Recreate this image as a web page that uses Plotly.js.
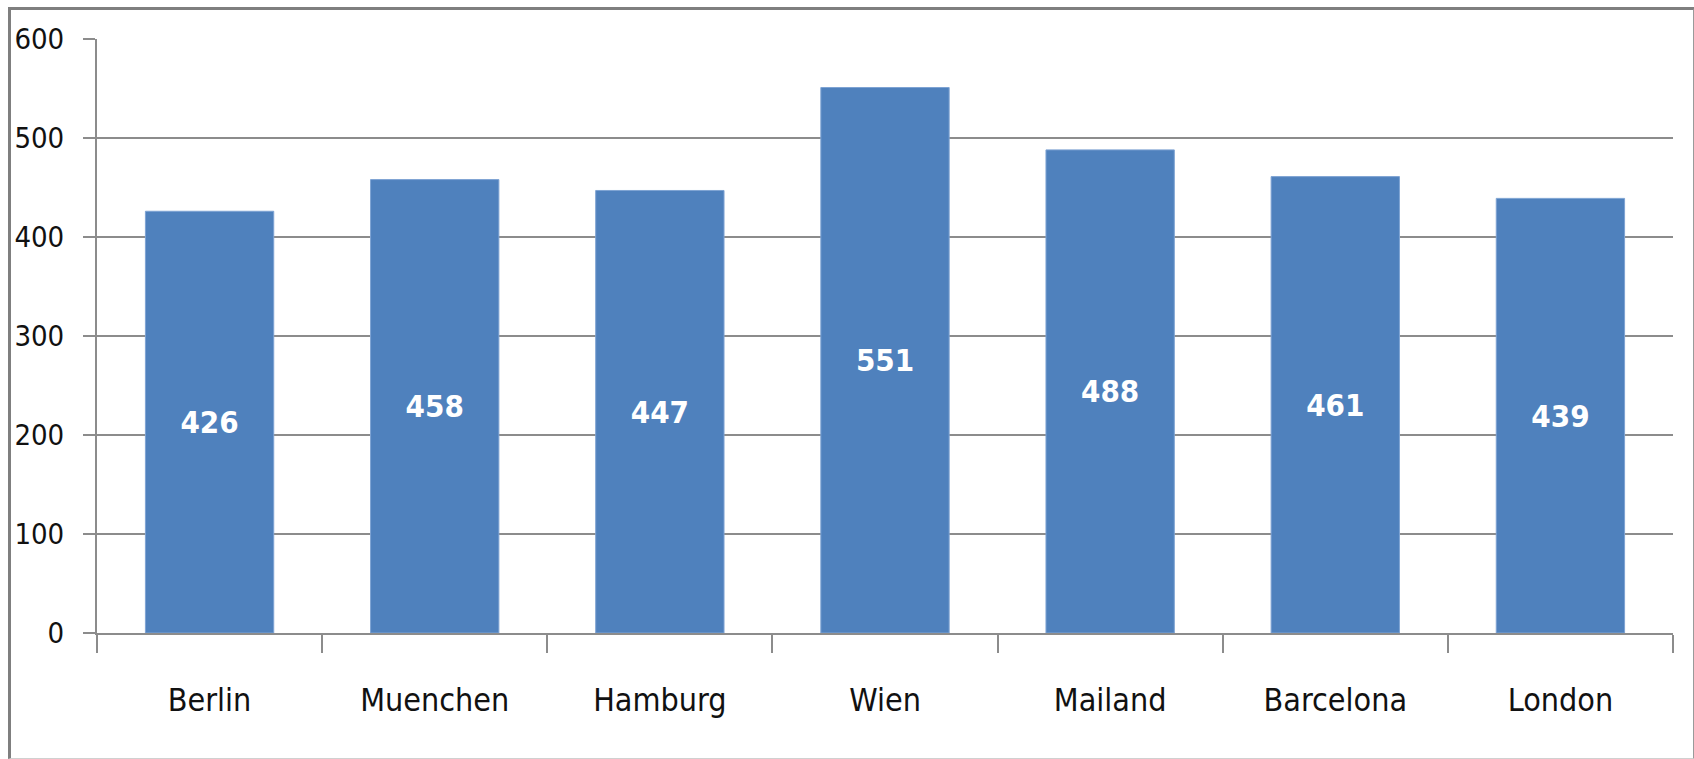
<!DOCTYPE html>
<html>
<head>
<meta charset="utf-8">
<script src="https://cdn.plot.ly/plotly-3.0.1.min.js"></script>
<style>
  html, body { margin: 0; padding: 0; background: #fff; }
  #plot-area { position: absolute; left: 0; top: 0; width: 1694px; height: 759px; }
  #frame {
    position: absolute; left: 8px; top: 7px; width: 1682px; height: 748px;
    border-left: 3px solid #7f7f7f; border-top: 3px solid #7f7f7f;
    border-right: 2px solid #9a9a9a; border-bottom: 1px solid #d0d0d0;
    pointer-events: none;
  }
</style>
</head>
<body>
<div id="plot-area"></div>
<div id="frame"></div>
<script>
const cities = ["Berlin", "Muenchen", "Hamburg", "Wien", "Mailand", "Barcelona", "London"];
const values = [426, 458, 447, 551, 488, 461, 439];
const yTicks = [0, 100, 200, 300, 400, 500, 600];

// no Calibri here, condensed DejaVu is the closest narrow face
const narrow = "'Liberation Sans Narrow', 'DejaVu Sans Condensed', sans-serif";

let trace = {
  x: cities,
  y: values,
  type: "bar",
  text: values.map(String),
  textposition: "inside",
  insidetextanchor: "middle",
  textfont: { family: narrow, size: 31, color: "#ffffff", weight: "bold" },
  marker: { color: "#4f81bd", line: { color: "#7ea3d3", width: 1 } },
  hoverinfo: "skip",
};

let layout = {
  width: 1694,
  height: 759,
  margin: { l: 97, r: 21, t: 39, b: 126 },
  paper_bgcolor: "#ffffff",
  plot_bgcolor: "#ffffff",
  showlegend: false,
  bargap: 0.43,
  font: { family: narrow, size: 32, color: "#111111" },
  xaxis: {
    type: "category",
    tickson: "boundaries",
    ticks: "outside",
    ticklen: 18,
    tickwidth: 2,
    tickcolor: "#8c8c8c",
    showline: true,
    linecolor: "#8c8c8c",
    linewidth: 2,
    showgrid: false,
    ticklabelstandoff: 38,
    tickfont: { family: narrow, size: 32, color: "#111111" },
  },
  yaxis: {
    range: [0, 600],
    tickvals: yTicks,
    ticktext: yTicks.map(String),
    ticks: "outside",
    ticklen: 12,
    tickwidth: 2,
    tickcolor: "#8c8c8c",
    showline: true,
    linecolor: "#8c8c8c",
    linewidth: 2,
    showgrid: true,
    gridcolor: "#8c8c8c",
    gridwidth: 2,
    zeroline: false,
    ticklabelstandoff: 13,
    tickfont: { family: narrow, size: 29, color: "#111111" },
  },
};

Plotly.newPlot("plot-area", [trace], layout, { staticPlot: true });
</script>
</body>
</html>
